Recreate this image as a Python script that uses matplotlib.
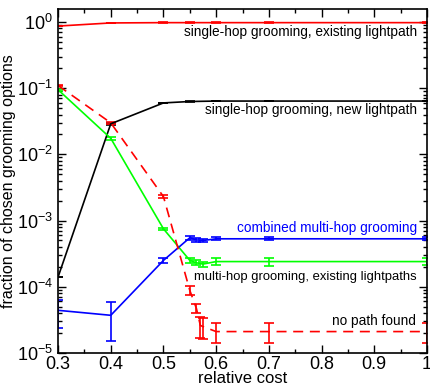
import math
import matplotlib
matplotlib.use("Agg")
import matplotlib.pyplot as plt
from matplotlib.ticker import FuncFormatter, LogLocator, NullFormatter, MultipleLocator

plt.rcParams['font.family'] = ['Liberation Sans', 'DejaVu Sans']
plt.rcParams['mathtext.fontset'] = 'custom'
plt.rcParams['mathtext.rm'] = 'Liberation Sans'
plt.rcParams['mathtext.it'] = 'Liberation Sans:italic'

# single-hop grooming, existing lightpath (red solid)
x_she = [0.3, 0.4, 0.5, 0.55, 0.6, 0.7, 1.0]
y_she = [0.87, 0.97, 0.98, 0.98, 0.98, 0.98, 0.98]
e_she = [0.01, 0.01, 0.01, 0.01, 0.01, 0.01, 0.01]

# single-hop grooming, new lightpath (black)
x_shn = [0.3, 0.4, 0.5, 0.55, 0.6, 0.7, 1.0]
y_shn = [1.4e-4, 0.029, 0.060, 0.063, 0.064, 0.064, 0.064]
e_shn = [0.0, 0.001, 0.0005, 0.0005, 0.0005, 0.0005, 0.0005]

# multi-hop grooming, existing lightpaths (green)
x_mhe = [0.3, 0.4, 0.5, 0.55, 0.5625, 0.575, 0.6, 0.7, 1.0]
y_mhe = [0.095, 0.0175, 7.5e-4, 2.5e-4, 2.3e-4, 2.2e-4, 2.4e-4, 2.4e-4, 2.4e-4]
e_mhe = [0.003, 0.0009, 0.3e-4, 0.2e-4, 0.2e-4, 0.2e-4, 0.3e-4, 0.35e-4, 0.3e-4]

# combined multi-hop grooming (blue)
x_cmb = [0.3, 0.4, 0.5, 0.55, 0.5625, 0.575, 0.6, 0.7, 1.0]
y_cmb = [4.4e-5, 3.7e-5, 2.5e-4, 5.5e-4, 5.1e-4, 5.0e-4, 5.3e-4, 5.3e-4, 5.3e-4]
e_cmb = [2.0e-5, 2.2e-5, 0.2e-4, 0.4e-4, 0.3e-4, 0.3e-4, 0.3e-4, 0.3e-4, 0.3e-4]

# no path found (red dashed)
x_npf = [0.3, 0.4, 0.5, 0.55, 0.5625, 0.57, 0.575, 0.6, 0.7, 1.0]
y_npf = [0.11, 0.030, 2.3e-3, 8.8e-5, 4.7e-5, 2.6e-5, 2.5e-5, 2.1e-5, 2.1e-5, 2.1e-5]
e_npf = [0.003, 0.001, 0.1e-3, 1.3e-5, 0.7e-5, 0.9e-5, 0.9e-5, 0.7e-5, 0.7e-5, 0.7e-5]

labels = ["single-hop grooming, existing lightpath",
          "single-hop grooming, new lightpath",
          "combined multi-hop grooming",
          "multi-hop grooming, existing lightpaths",
          "no path found"]

fig = plt.figure(figsize=(4.3, 3.84), dpi=100)
ax = fig.add_axes([0.135, 0.081, 0.858, 0.896])

kw = dict(capsize=3.8, elinewidth=1.2, capthick=1.2, lw=1.2)
ax.errorbar(x_she, y_she, yerr=e_she, color='#ff0000', **kw)
ax.errorbar(x_shn, y_shn, yerr=e_shn, color='black', **kw)
ax.errorbar(x_mhe, y_mhe, yerr=e_mhe, color='#00ff00', **kw)
ax.errorbar(x_cmb, y_cmb, yerr=e_cmb, color='#0000ff', **kw)
eb = ax.errorbar(x_npf, y_npf, yerr=e_npf, color='#ff0000', **kw)
eb[0].set_dashes([6, 4])

ax.set_yscale('log')
ax.set_xlim(0.3, 1.0)
ax.set_ylim(1e-5, 10**0.2)
ax.xaxis.set_major_locator(MultipleLocator(0.1))
ax.xaxis.set_minor_locator(MultipleLocator(0.05))
ax.xaxis.set_major_formatter(FuncFormatter(lambda v, p: ('%.1f' % v) if v < 0.999 else '1'))
ax.yaxis.set_major_locator(LogLocator(base=10, numticks=10))
ax.yaxis.set_minor_locator(LogLocator(base=10, subs=range(2, 10), numticks=20))
ax.yaxis.set_minor_formatter(NullFormatter())
ax.yaxis.set_major_formatter(FuncFormatter(lambda v, p: r'$10^{%d}$' % round(math.log10(v))))
ax.tick_params(which='both', direction='in', top=True, right=True, labelsize=13)
ax.tick_params(which='major', length=6, width=1)
ax.tick_params(which='minor', length=3, width=1)
ax.tick_params(axis='x', pad=2)
for s in ax.spines.values():
    s.set_linewidth(1.2)

ax.set_xlabel('relative cost', fontsize=12, labelpad=-1)
ax.set_ylabel('fraction of chosen grooming options', fontsize=11.5, labelpad=1)


def yfrac(py):
    return (353 - py) / (353 - 9)


def xfrac(px):
    return (px - 58) / (427 - 58)


tfs = 9.8
ax.text(xfrac(417), yfrac(32), labels[0], transform=ax.transAxes, ha='right', va='center', fontsize=tfs)
ax.text(xfrac(417), yfrac(110), labels[1], transform=ax.transAxes, ha='right', va='center', fontsize=tfs)
ax.text(xfrac(417), yfrac(228), labels[2], transform=ax.transAxes, ha='right', va='center', fontsize=tfs, color='#0000ff')
ax.text(xfrac(417), yfrac(277), labels[3], transform=ax.transAxes, ha='right', va='center', fontsize=9.4)
ax.text(xfrac(416), yfrac(321), labels[4], transform=ax.transAxes, ha='right', va='center', fontsize=tfs)

fig.savefig('out.png', dpi=100)
